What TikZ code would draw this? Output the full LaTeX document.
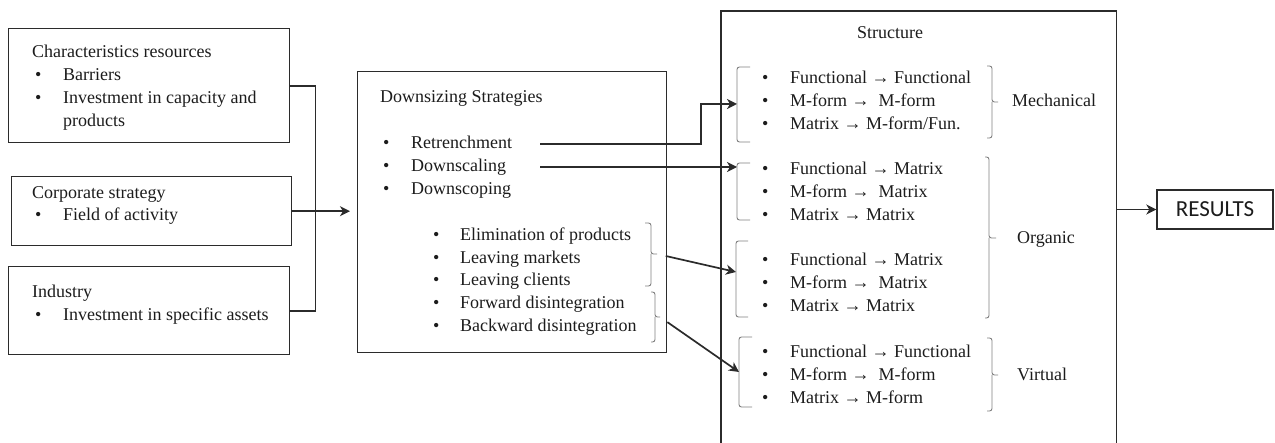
\documentclass[tikz,border=0pt]{standalone}
\usepackage{fontspec}
\setmainfont{Liberation Serif}
\newfontfamily\resultsfont{Carlito}
\usetikzlibrary{arrows.meta,positioning}
\definecolor{linegray}{HTML}{2B2B2B}
\definecolor{bracegray}{HTML}{7F7F7F}
\definecolor{textdark}{HTML}{1C1C1C}
\tikzset{
  box/.style={draw=linegray, line width=1.4pt, inner sep=0pt, anchor=north west},
  item/.style={anchor=base west, inner sep=0pt, text=textdark, font=\fontsize{18}{23}\selectfont},
  link/.style={draw=linegray, line width=1.7pt},
  arr/.style={link, -{Stealth[length=10pt,width=10pt,inset=3pt]}},
  brace/.style={draw=bracegray, line width=0.9pt, rounded corners=2.5pt}
}
\begin{document}
\begin{tikzpicture}[x=1pt,y=-1pt]
    \useasboundingbox (0,0) rectangle (1275,443);

    % Input boxes
    \node[box, minimum width=281pt, minimum height=114pt] (chars) at (8,28) {};
    \node[box, minimum width=280pt, minimum height=69pt] (corp) at (11,176) {};
    \node[box, minimum width=281pt, minimum height=88pt] (ind) at (8,266) {};

    \node[item] (charsT) at (32,58) {Characteristics resources};
    \foreach \y/\t in {81/Barriers, 104/Investment in capacity and} {
        \node[item] (cdot\y) at (35,\y) {\textbullet};
        \node[item] (citem\y) at (63,\y) {\t};
    }
    \node[item] (citem127) at (63,127) {products};

    \node[item] (corpT) at (32,199) {Corporate strategy};
    \node[item] (pdot) at (35,221) {\textbullet};
    \node[item] (pitem) at (63,221) {Field of activity};

    \node[item] (indT) at (32,298) {Industry};
    \node[item] (idot) at (35,321) {\textbullet};
    \node[item] (iitem) at (63,321) {Investment in specific assets};

    % Downsizing strategies
    \node[box, minimum width=309pt, minimum height=281pt] (mid) at (357,71) {};
    \node[item] (midT) at (380,103) {Downsizing Strategies};
    \foreach \y/\t/\n in {149/Retrenchment/ret, 172/Downscaling/scal, 195/Downscoping/scop} {
        \node[item] (d\n) at (383,\y) {\textbullet};
        \node[item] (\n) at (411,\y) {\t};
    }
    \foreach \y/\t in {241/Elimination of products, 264/Leaving markets, 286/Leaving clients,
                       309/Forward disintegration, 332/Backward disintegration} {
        \node[item] (sdot\y) at (433,\y) {\textbullet};
        \node[item] (sub\y) at (460,\y) {\t};
    }
    % grouping braces
    \draw[brace] (645,223) -| (651,254) -- (657,254);
    \draw[brace] (645,286) -| (651,254);
    \draw[brace] (651,292) -| (655,317) -- (660,317);
    \draw[brace] (651,342) -| (655,317);
    \coordinate (tipA) at (657,254);
    \coordinate (tipB) at (660,317);
    \coordinate (retS) at (540,144);
    \coordinate (scalS) at (540,167);

    % Structure
    \node[box, draw=none, minimum width=394pt, minimum height=432pt] (struct) at (721,11) {};
    \draw[draw=linegray, line width=1.4pt] (struct.south west) |- (struct.north east) -- (struct.south east);
    \node[item, anchor=base] (structT) at (890,39) {Structure};

    \foreach \y/\t in {84/Functional → Functional, 107/M-form → \ M-form, 130/{Matrix → M-form/Fun.},
                       175/Functional → Matrix, 198/M-form → \ Matrix, 221/Matrix → Matrix,
                       266/Functional → Matrix, 289/M-form → \ Matrix, 312/Matrix → Matrix,
                       358/Functional → Functional, 381/M-form → \ M-form, 404/Matrix → M-form} {
        \node[item] (fdot\y) at (762,\y) {\textbullet};
        \node[item] (form\y) at (790,\y) {\t};
    }
    % left brackets
    \draw[brace] (750,67) -| (737,142) -- (750,142);
    \draw[brace] (750,163) -| (737,220) -- (750,220);
    \draw[brace] (748,241) -| (736,317) -- (748,317);
    \draw[brace] (752,337) -| (739,407) -- (752,407);
    \coordinate (g1) at (737,104);
    \coordinate (g2) at (737,167);
    \coordinate (g3) at (736,272);
    \coordinate (g4) at (739,372);
    % right braces
    \draw[brace] (987,66) -| (992,102) -- (998,102);
    \draw[brace] (987,138) -| (992,102);
    \draw[brace] (985,157) -| (989,238) -- (996,238);
    \draw[brace] (985,318) -| (989,238);
    \draw[brace] (987,338) -| (992,375) -- (998,375);
    \draw[brace] (987,411) -| (992,375);
    \node[item] (mech) at (1012,107) {Mechanical};
    \node[item] (org) at (1017,244) {Organic};
    \node[item] (virt) at (1017,381) {Virtual};

    % Results
    \node[box, anchor=center, minimum width=116pt, minimum height=39pt, text=textdark,
          font=\resultsfont\fontsize{23}{27}\selectfont] (res) at (1215,209.5) {RESULTS};

    % Connectors
    \draw[link] (chars.east) -- ++(25,0) |- (ind.east);
    \draw[arr, shorten >=7pt] (corp.east) -- (corp.east -| mid.west);
    \draw[arr] (retS) -- ++(161,0) |- (g1);
    \draw[arr] (scalS) -- (g2);
    \draw[arr, shorten <=9pt] (tipA) -- (g3);
    \draw[arr, shorten <=9pt] (tipB) -- (g4);
    \draw[arr] (struct.east |- res.west) -- (res.west);
\end{tikzpicture}
\end{document}
